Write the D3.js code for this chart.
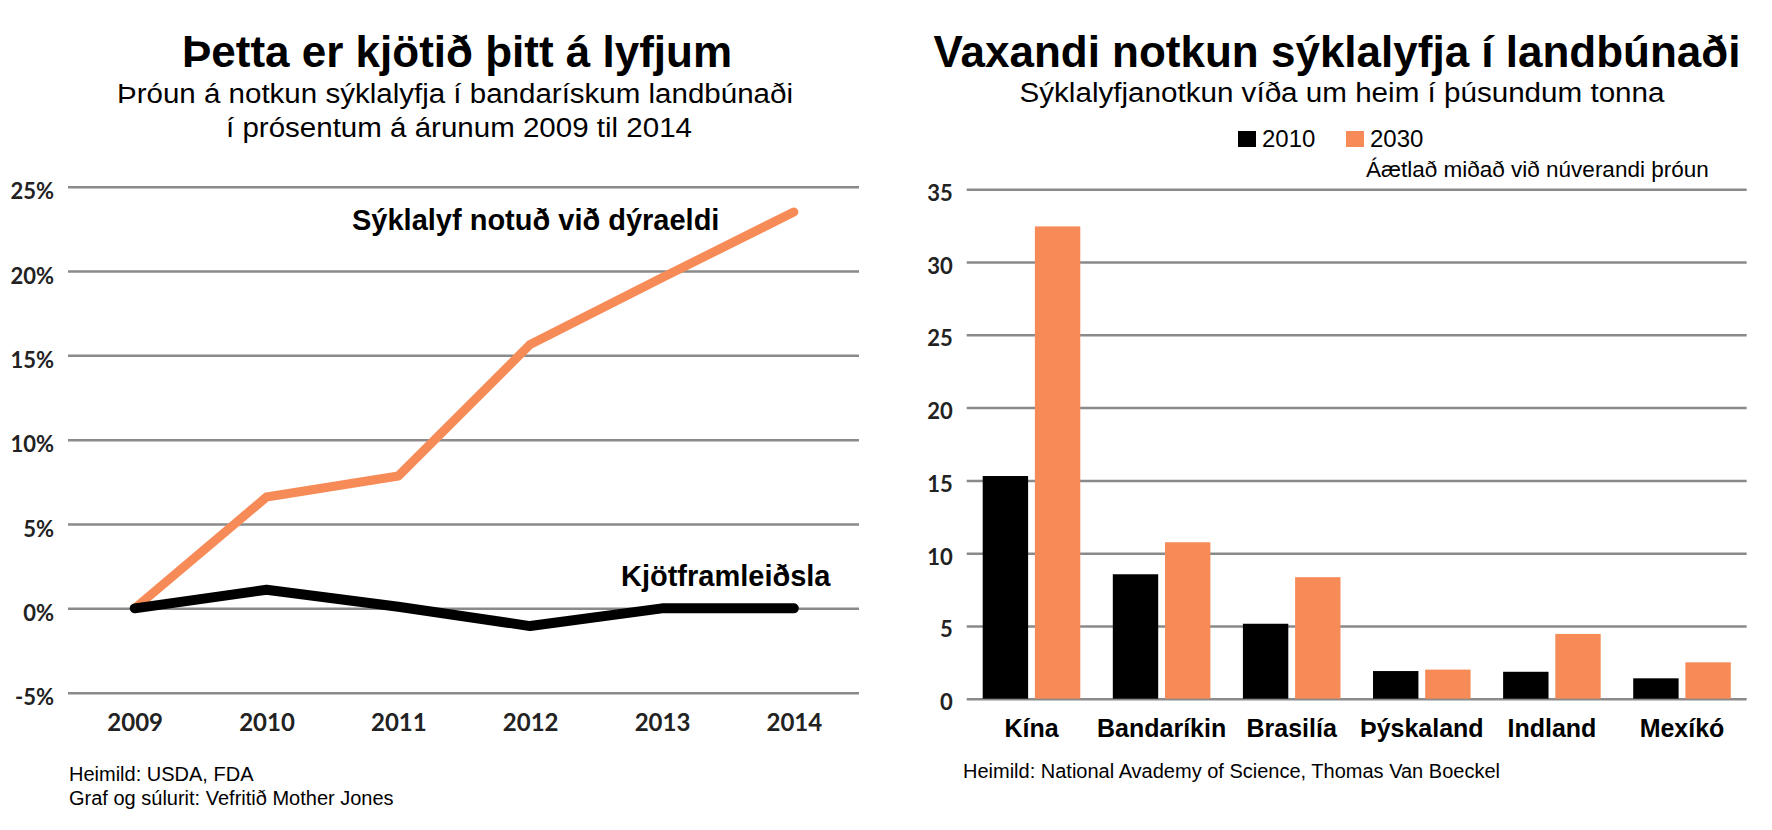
<!DOCTYPE html>
<html>
<head>
<meta charset="utf-8">
<script src="https://cdn.jsdelivr.net/npm/d3@7"></script>
<style>
  body { margin: 0; background: #fff; }
  text { font-family: "Liberation Sans", Arial, sans-serif; }
  .tick text { font-family: Lato, "Noto Sans", sans-serif; font-weight: 700; fill: #222; }
  .tick line { stroke: #8a8a8a; stroke-width: 2.5px; }
  .domain { display: none; }
</style>
</head>
<body>
<div id="chart"></div>
<script>
// left chart: change in % since 2009
const years = [2009, 2010, 2011, 2012, 2013, 2014]
const antibioticUse = [0, 6.6, 7.85, 15.65, 19.6, 23.5]
const meatProduction = [0, 1.1, 0.1, -1.05, 0, 0]
const pctTicks = [-5, 0, 5, 10, 15, 20, 25]

// right chart: thousand tonnes
const countries = ['Kína', 'Bandaríkin', 'Brasilía', 'Þýskaland', 'Indland', 'Mexíkó']
const series = ['2010', '2030']
const use2010 = [15.3, 8.55, 5.15, 1.9, 1.85, 1.4]
const use2030 = [32.45, 10.75, 8.35, 2.0, 4.45, 2.5]
const tonTicks = [0, 5, 10, 15, 20, 25, 30, 35]

const orange = '#f68b58'

const svg = d3.select('#chart')
    .append('svg')
        .attr('width', 1772)
        .attr('height', 830)

svg.append('rect').attr('width', 1772).attr('height', 830).attr('fill', '#fff')

const addText = (x, y, str, size, weight, anchor, len) => {
    const t = svg.append('text')
        .attr('x', x)
        .attr('y', y)
        .attr('font-size', size)
        .attr('font-weight', weight || 400)
        .attr('text-anchor', anchor || 'start')
        .attr('fill', '#000')
        .text(str)
    if (len) t.attr('textLength', len).attr('lengthAdjust', 'spacingAndGlyphs') //the source text is a bit stretched sideways
    return t
}

// ---------- left: line chart ----------
const xLine = d3.scalePoint()
    .domain(years)
    .range([134.7, 793.8])

const yLine = d3.scaleLinear()
    .domain([-5, 25])
    .range([692.7, 186.7])

const gLeft = svg.append('g')

gLeft.append('g')
    .attr('transform', 'translate(68, 0)')
    .call(d3.axisLeft(yLine)
        .tickValues(pctTicks)
        .tickSize(-791)
        .tickPadding(14)
        .tickFormat(d => d + '%'))
    .selectAll('.tick text')
        .attr('font-size', 22)
        .attr('dy', '0.55em')

gLeft.append('g')
    .attr('transform', 'translate(0, 710)')
    .call(d3.axisBottom(xLine).tickSize(0).tickPadding(0))
    .selectAll('.tick text')
        .attr('font-size', 24)
        .attr('dy', '0.88em')

const line = d3.line()
    .x((d, i) => xLine(years[i]))
    .y(d => yLine(d))

gLeft.append('path')
    .datum(antibioticUse)
    .attr('d', line)
    .attr('fill', 'none')
    .attr('stroke', orange)
    .attr('stroke-width', 9)
    .attr('stroke-linecap', 'round')
    .attr('stroke-linejoin', 'round')

gLeft.append('path')
    .datum(meatProduction)
    .attr('d', line)
    .attr('fill', 'none')
    .attr('stroke', '#000')
    .attr('stroke-width', 10)
    .attr('stroke-linecap', 'round')
    .attr('stroke-linejoin', 'round')

addText(457, 67, 'Þetta er kjötið þitt á lyfjum', 44, 700, 'middle')
addText(455, 103, 'Þróun á notkun sýklalyfja í bandarískum landbúnaði', 27, 400, 'middle', 676)
addText(459, 137, 'í prósentum á árunum 2009 til 2014', 27, 400, 'middle', 466)
addText(352, 230, 'Sýklalyf notuð við dýraeldi', 29, 700)
addText(621, 586, 'Kjötframleiðsla', 29, 700)
addText(69, 781, 'Heimild: USDA, FDA', 20)
addText(69, 805, 'Graf og súlurit: Vefritið Mother Jones', 20)

// ---------- right: grouped bars ----------
const x0 = d3.scaleBand()
    .domain(countries)
    .range([966.7, 1746.8])
    .paddingInner(0.25)
    .paddingOuter(0.123)

const x1 = d3.scaleBand()
    .domain(series)
    .range([0, x0.bandwidth()])
    .paddingInner(0.13)

const yBar = d3.scaleLinear()
    .domain([0, 35])
    .range([698.7, 189.3])

const color = d3.scaleOrdinal()
    .domain(series)
    .range(['#000', orange])

const gRight = svg.append('g')

gRight.append('g')
    .attr('transform', 'translate(966.7, 0)')
    .call(d3.axisLeft(yBar)
        .tickValues(tonTicks)
        .tickSize(-780)
        .tickPadding(14))
    .selectAll('.tick text')
        .attr('font-size', 22)
        .attr('dy', '0.5em')

const barData = countries.map((c, i) => ({
    country: c,
    values: [
        { key: '2010', value: use2010[i] },
        { key: '2030', value: use2030[i] }
    ]
}))

gRight.selectAll('g.group')
    .data(barData)
    .enter()
    .append('g')
        .attr('class', 'group')
        .attr('transform', d => `translate(${x0(d.country)}, 0)`)
    .selectAll('rect')
    .data(d => d.values)
    .enter()
    .append('rect')
        .attr('x', d => x1(d.key))
        .attr('width', x1.bandwidth())
        .attr('y', d => yBar(d.value))
        .attr('height', d => yBar(0) - yBar(d.value))
        .attr('fill', d => color(d.key))

const xAxisR = gRight.append('g')
    .attr('transform', 'translate(0, 712)')
    .call(d3.axisBottom(x0).tickSize(0).tickPadding(0))

xAxisR.selectAll('.tick text')
    .style('font-family', '"Liberation Sans", Arial, sans-serif')
    .style('fill', '#000')
    .attr('font-size', 25)
    .attr('dy', '0.98em')

addText(1337, 67, 'Vaxandi notkun sýklalyfja í landbúnaði', 44, 700, 'middle')
addText(1342, 102, 'Sýklalyfjanotkun víða um heim í þúsundum tonna', 27, 400, 'middle', 645)

// legend
const legend = svg.append('g')
const legendX = [1238, 1346]
series.forEach((s, i) => {
    legend.append('rect')
        .attr('x', legendX[i])
        .attr('y', 131)
        .attr('width', 18)
        .attr('height', 16)
        .attr('fill', color(s))
    addText(legendX[i] + 24, 147, s, 24)
})
addText(1366, 177, 'Áætlað miðað við núverandi þróun', 22.5)
addText(963, 778, 'Heimild: National Avademy of Science, Thomas Van Boeckel', 20)
</script>
</body>
</html>
